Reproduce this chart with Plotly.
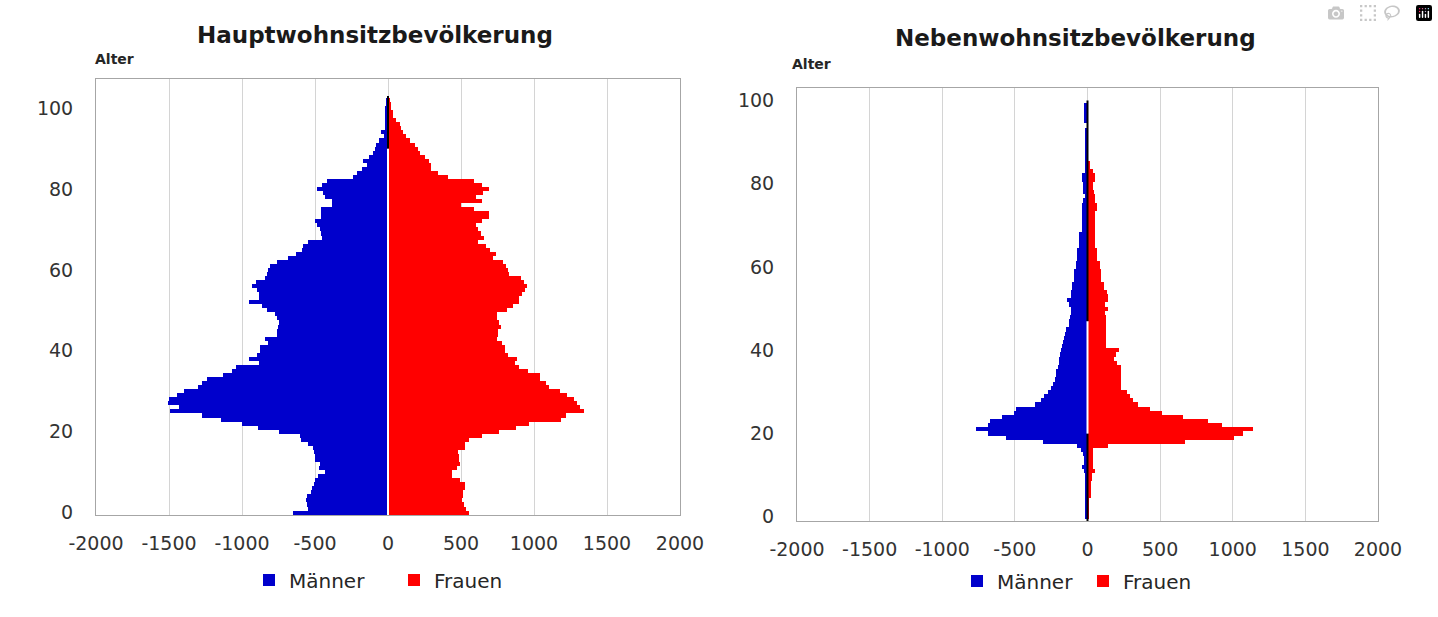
import plotly.graph_objects as go

# ---------------- data ----------------
ages_haupt = list(range(0, 103))
maenner_haupt = [650, 545, 553, 560, 553, 526, 518, 510, 500, 480,
                 429, 470, 466, 500, 500, 508, 513, 545, 597, 605,
                 750, 889, 1000, 1145, 1271, 1492, 1429, 1508, 1500, 1447,
                 1395, 1303, 1276, 1237, 1132, 1071, 1039, 882, 955, 895,
                 874, 874, 824, 842, 760, 760, 755, 750, 763, 776,
                 829, 861, 950, 882, 887, 895, 934, 903, 842, 830,
                 824, 808, 758, 684, 632, 592, 579, 545, 455, 460,
                 466, 487, 500, 461, 461, 461, 382, 382, 429, 447,
                 487, 453, 421, 237, 211, 176, 145, 171, 132, 103,
                 92, 79, 60, 26, 47, 20, 18, 18, 18, 18,
                 18, 15, 15]
frauen_haupt = [553, 534, 518, 508, 513, 513, 526, 526, 492, 439,
                439, 474, 492, 487, 487, 482, 526, 526, 553, 645,
                758, 876, 966, 1184, 1218, 1342, 1316, 1297, 1271, 1224,
                1176, 1105, 1079, 1039, 1039, 961, 895, 868, 882, 824,
                803, 803, 782, 745, 755, 755, 771, 758, 745, 745,
                816, 855, 900, 900, 921, 940, 955, 929, 908, 829,
                820, 811, 789, 718, 737, 700, 671, 618, 658, 640,
                618, 605, 645, 692, 692, 592, 500, 645, 605, 650,
                692, 645, 592, 408, 342, 297, 297, 282, 250, 220,
                203, 184, 153, 124, 105, 90, 79, 53, 32, 32,
                21, 21, 8]

ages_neben = list(range(0, 100))
maenner_neben = [18, 18, 18, 18, 18, 18, 18, 18, 18, 18,
                 20, 22, 40, 25, 25, 30, 46, 73, 304, 563,
                 685, 766, 685, 671, 590, 503, 495, 359, 318, 300,
                 269, 250, 236, 225, 217, 215, 205, 196, 196, 190,
                 180, 177, 170, 160, 155, 145, 130, 128, 120, 114,
                 114, 128, 141, 114, 114, 106, 106, 95, 95, 95,
                 79, 79, 73, 73, 73, 57, 57, 57, 57, 38,
                 38, 38, 38, 38, 41, 41, 33, 19, 33, 33,
                 33, 38, 38, 14, 14, 14, 19, 19, 19, 19,
                 19, 19, 19, 19, 0, 24, 24, 24, 24, 24]
frauen_neben = [10, 10, 10, 10, 10, 22, 22, 22, 22, 30,
                30, 49, 35, 35, 35, 35, 41, 139, 674, 1008,
                1068, 1136, 927, 829, 660, 511, 429, 348, 312, 293,
                274, 231, 231, 231, 231, 231, 231, 204, 185, 193,
                220, 130, 130, 130, 130, 130, 130, 130, 130, 122,
                139, 122, 139, 139, 133, 117, 117, 95, 95, 95,
                84, 84, 68, 68, 68, 54, 54, 54, 54, 49,
                49, 49, 49, 49, 62, 62, 54, 54, 45, 35,
                35, 49, 49, 35, 14, 14, 0, 0, 0, 0,
                0, 0, 0, 0, 0, 0, 0, 0, 0, 0]

titles = ["Hauptwohnsitzbevölkerung", "Nebenwohnsitzbevölkerung"]
series_names = ["Männer", "Frauen"]
x_tickvals = [-2000, -1500, -1000, -500, 0, 500, 1000, 1500, 2000]
x_ticktext = ["-2000", "-1500", "-1000", "-500", "0", "500", "1000", "1500", "2000"]
y_tickvals = [0, 20, 40, 60, 80, 100]
y_ticktext = ["0", "20", "40", "60", "80", "100"]

# ---------------- styling ----------------
BLUE = "#0000CC"
RED = "#FF0000"
W, H = 1438, 617
FONT = "DejaVu Sans"
TICKFONT = dict(family=FONT, size=19, color="#333333")


def px_x(p):
    return p / W


def px_y(p):
    return 1 - p / H


fig = go.Figure()

# left pyramid
fig.add_trace(go.Bar(y=ages_haupt, x=[-v for v in maenner_haupt], orientation="h",
                     name=series_names[0], marker=dict(color=BLUE, line=dict(width=0)),
                     xaxis="x", yaxis="y", legend="legend"))
fig.add_trace(go.Bar(y=ages_haupt, x=frauen_haupt, orientation="h",
                     name=series_names[1], marker=dict(color=RED, line=dict(width=0)),
                     xaxis="x", yaxis="y", legend="legend"))
# right pyramid
fig.add_trace(go.Bar(y=ages_neben, x=[-v for v in maenner_neben], orientation="h",
                     name=series_names[0], marker=dict(color=BLUE, line=dict(width=0)),
                     xaxis="x2", yaxis="y2", legend="legend2"))
fig.add_trace(go.Bar(y=ages_neben, x=frauen_neben, orientation="h",
                     name=series_names[1], marker=dict(color=RED, line=dict(width=0)),
                     xaxis="x2", yaxis="y2", legend="legend2"))

xcommon = dict(range=[-2000, 2000], tickvals=x_tickvals, ticktext=x_ticktext,
               showgrid=True, gridcolor="#D4D4D4", gridwidth=1, zeroline=False,
               showline=True, linecolor="#A6A6A6", linewidth=1, mirror=True,
               ticks="", tickfont=TICKFONT, ticklabelstandoff=11, fixedrange=True,
               automargin=False)
ycommon = dict(tickvals=y_tickvals, ticktext=y_ticktext, showgrid=False, zeroline=False,
               showline=True, linecolor="#A6A6A6", linewidth=1, mirror=True,
               ticks="", tickfont=TICKFONT, ticklabelstandoff=18, fixedrange=True,
               automargin=False)

fig.update_layout(
    width=W, height=H,
    margin=dict(l=0, r=0, t=0, b=0, autoexpand=False),
    paper_bgcolor="white", plot_bgcolor="white",
    barmode="overlay", bargap=0,
    xaxis=dict(domain=[px_x(96), px_x(680)], anchor="y", **xcommon),
    yaxis=dict(domain=[px_y(515), px_y(79)], anchor="x", range=[-0.6, 107.2], **ycommon),
    xaxis2=dict(domain=[px_x(797), px_x(1378)], anchor="y2", **xcommon),
    yaxis2=dict(domain=[px_y(521), px_y(88)], anchor="x2", range=[-1, 103], **ycommon),
    legend=dict(orientation="h", x=px_x(249), y=px_y(580), xanchor="left", yanchor="middle",
                font=dict(family=FONT, size=20, color="#262626"),
                entrywidth=100, entrywidthmode="pixels", bgcolor="rgba(0,0,0,0)"),
    legend2=dict(orientation="h", x=px_x(957), y=px_y(581), xanchor="left", yanchor="middle",
                 font=dict(family=FONT, size=20, color="#262626"),
                 entrywidth=81, entrywidthmode="pixels", bgcolor="rgba(0,0,0,0)"),
    showlegend=True,
)

# center lines at x = 0
center_lines = [
    ("x", "y", -0.6, 90, "white"),
    ("x", "y", 90, 103, "black"),
    ("x2", "y2", -1, 20, "black"),
    ("x2", "y2", 20, 47, "white"),
    ("x2", "y2", 47, 100, "black"),
]
for xr, yr, y0, y1, col in center_lines:
    fig.add_shape(type="line", xref=xr, yref=yr, x0=0, x1=0, y0=y0, y1=y1,
                  line=dict(color=col, width=2), layer="above")

# titles
fig.add_annotation(text="<b>" + titles[0] + "</b>", xref="paper", yref="paper",
                   x=px_x(375), y=px_y(35), showarrow=False, xanchor="center", yanchor="middle",
                   font=dict(family=FONT, size=23, color="#1a1a1a"))
fig.add_annotation(text="<b>" + titles[1] + "</b>", xref="paper", yref="paper",
                   x=px_x(1075), y=px_y(38), showarrow=False, xanchor="center", yanchor="middle",
                   font=dict(family=FONT, size=23, color="#1a1a1a"))
# axis captions
for xp, yp in [(95, 59), (792, 64)]:
    fig.add_annotation(text="<b>Alter</b>", xref="paper", yref="paper",
                       x=px_x(xp), y=px_y(yp), showarrow=False, xanchor="left", yanchor="middle",
                       xshift=-2, font=dict(family=FONT, size=14, color="#262626"))

fig.write_html("out.html", post_script="document.body.style.margin='0';")
